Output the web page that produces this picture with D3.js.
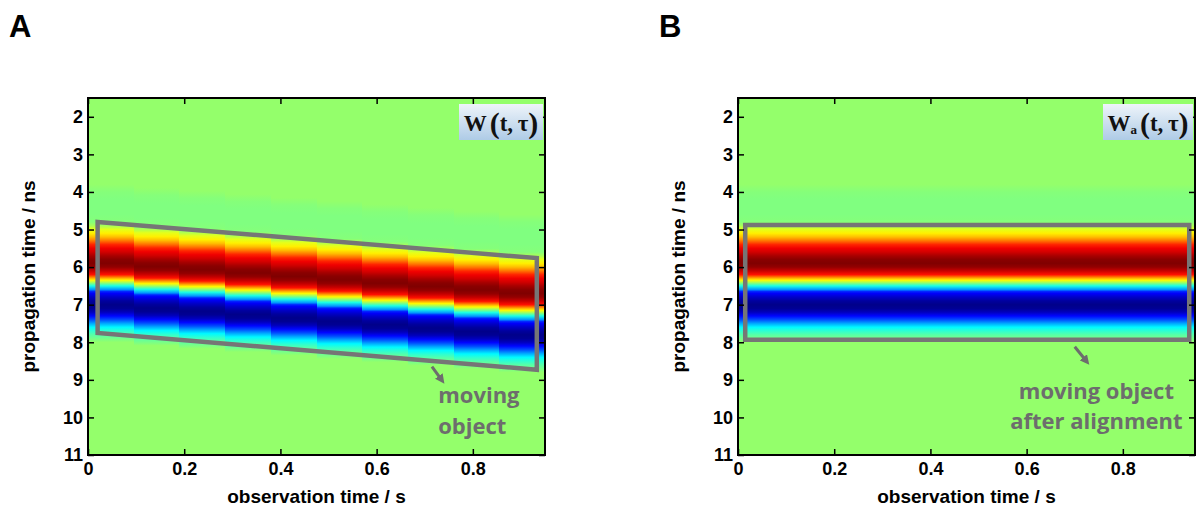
<!DOCTYPE html>
<html>
<head>
<meta charset="utf-8">
<script src="https://cdn.jsdelivr.net/npm/d3@7/dist/d3.min.js"></script>
<style>
body { margin: 0; background: #fff; }
text { font-family: "Liberation Sans", Arial, sans-serif; }
.tick text { font-size: 18px; font-weight: bold; fill: #000; }
.tick line { stroke: #000; stroke-width: 1.5; }
.domain { display: none; }
</style>
</head>
<body>
<svg width="1200" height="506"></svg>
<script>
// pulse profile: propagation time (ns) -> colormap level (0..1, jet)
var tau =   [3.8, 4.0, 4.2, 4.4, 4.6, 4.8, 4.9, 5.0, 5.1, 5.2, 5.3, 5.4, 5.5, 5.6, 5.7, 5.8, 5.9, 6.0, 6.1, 6.2, 6.3, 6.35, 6.4, 6.5, 6.6, 6.65, 6.7, 6.8, 6.9, 7.0, 7.1, 7.2, 7.3, 7.4, 7.5, 7.6, 7.7, 7.8, 7.9, 8.0];
var level = [0.52, 0.505, 0.5, 0.5, 0.5, 0.505, 0.54, 0.60, 0.64, 0.69, 0.76, 0.84, 0.89, 0.92, 0.96, 0.99, 1.00, 0.98, 0.93, 0.86, 0.70, 0.63, 0.55, 0.40, 0.27, 0.16, 0.12, 0.07, 0.03, 0.01, 0.02, 0.06, 0.13, 0.20, 0.29, 0.37, 0.42, 0.46, 0.49, 0.52];
var background = 0.52;

// observation time columns (s) and pulse delay of each column (ns)
var colStart = [0, 0.095, 0.19, 0.285, 0.38, 0.475, 0.57, 0.665, 0.76, 0.855];
var colWidth = 0.095;
var delayA = [0, 0.09, 0.17, 0.26, 0.35, 0.44, 0.53, 0.62, 0.71, 0.80];
var delayB = [0, 0, 0, 0, 0, 0, 0, 0, 0, 0];

var xTicks = [0, 0.2, 0.4, 0.6, 0.8];
var yTicks = [2, 3, 4, 5, 6, 7, 8, 9, 10, 11];

// outline of the moving object (s, ns)
var boxA = [[0.02, 4.8], [0.933, 5.76], [0.933, 8.73], [0.02, 7.75]];
var boxB = [[0.015, 4.88], [0.938, 4.88], [0.938, 7.93], [0.015, 7.93]];

function jet(v) {
  function c(x) { return Math.round(255 * Math.max(0, Math.min(1, x))); }
  return d3.rgb(c(Math.min(4 * v - 1.5, -4 * v + 4.5)),
                c(Math.min(4 * v - 0.5, -4 * v + 3.5)),
                c(Math.min(4 * v + 0.5, -4 * v + 2.5))).toString();
}

var svg = d3.select("svg");
var defs = svg.append("defs");

var lg = defs.append("linearGradient").attr("id", "labelbg")
  .attr("x1", 0).attr("y1", 0).attr("x2", 0).attr("y2", 1);
lg.append("stop").attr("offset", 0).attr("stop-color", "#eef4fa");
lg.append("stop").attr("offset", 1).attr("stop-color", "#aecbe6");

defs.append("marker").attr("id", "arrow")
  .attr("viewBox", "0 0 10 10").attr("refX", 5).attr("refY", 5)
  .attr("markerWidth", 3.2).attr("markerHeight", 3.2).attr("orient", "auto")
  .append("path").attr("d", "M0,0 L10,5 L0,10 z").attr("fill", "#6d6d6d");

function drawPanel(p) {
  var x = d3.scaleLinear().domain([0, 0.95]).range([p.left, p.left + 457]);
  var y = d3.scaleLinear().domain([1.5, 11]).range([98, 455]);
  var g = svg.append("g");

  defs.append("clipPath").attr("id", "clip" + p.name)
    .append("rect").attr("x", x(0)).attr("y", y(1.5))
    .attr("width", x(0.95) - x(0)).attr("height", y(11) - y(1.5));

  var plot = g.append("g").attr("clip-path", "url(#clip" + p.name + ")");
  plot.append("rect").attr("x", x(0)).attr("y", y(1.5))
    .attr("width", x(0.95) - x(0)).attr("height", y(11) - y(1.5))
    .attr("fill", jet(background));

  colStart.forEach(function(t0, i) {
    var d = p.delay[i];
    var y0 = y(tau[0] + d), y1 = y(tau[tau.length - 1] + d);
    var grad = defs.append("linearGradient").attr("id", "g" + p.name + i)
      .attr("gradientUnits", "userSpaceOnUse")
      .attr("x1", 0).attr("x2", 0).attr("y1", y0).attr("y2", y1);
    grad.selectAll("stop").data(tau).enter().append("stop")
      .attr("offset", function(v) { return (v - tau[0]) / (tau[tau.length - 1] - tau[0]); })
      .attr("stop-color", function(v, j) { return jet(level[j]); });
    plot.append("rect")
      .attr("x", x(t0)).attr("width", x(t0 + colWidth) - x(t0))
      .attr("y", y0).attr("height", y1 - y0)
      .attr("shape-rendering", "crispEdges")
      .attr("fill", "url(#g" + p.name + i + ")");
  });

  // object outline
  g.append("polygon")
    .attr("points", p.box.map(function(d) { return x(d[0]) + "," + y(d[1]); }).join(" "))
    .attr("fill", "none").attr("stroke", "#767676").attr("stroke-width", 4.5);

  // axes, ticks inward on all sides
  g.append("g").attr("transform", "translate(" + x(0) + ",0)")
    .call(d3.axisLeft(y).tickValues(yTicks).tickSize(-6).tickPadding(5));
  g.append("g").attr("transform", "translate(" + x(0.95) + ",0)")
    .call(d3.axisRight(y).tickValues(yTicks).tickSize(-6).tickFormat(""));
  g.append("g").attr("transform", "translate(0," + y(11) + ")")
    .call(d3.axisBottom(x).tickValues(xTicks).tickSize(-6).tickPadding(7)
      .tickFormat(function(d) { return d === 0 ? "0" : d3.format(".1f")(d); }));
  g.append("g").attr("transform", "translate(0," + y(1.5) + ")")
    .call(d3.axisTop(x).tickValues(xTicks).tickSize(-6).tickFormat(""));
  g.append("rect").attr("x", x(0)).attr("y", y(1.5))
    .attr("width", x(0.95) - x(0)).attr("height", y(11) - y(1.5))
    .attr("fill", "none").attr("stroke", "#000").attr("stroke-width", 2);

  // axis titles
  g.append("text").attr("x", (x(0) + x(0.95)) / 2).attr("y", 503)
    .attr("text-anchor", "middle").attr("font-size", 19).attr("font-weight", "bold")
    .text("observation time / s");
  g.append("text").attr("transform", "translate(" + (p.left - 53) + "," + (y(6.25)) + ") rotate(-90)")
    .attr("text-anchor", "middle").attr("font-size", 19).attr("font-weight", "bold")
    .text("propagation time / ns");

  // panel letter
  svg.append("text").attr("x", p.left - 79).attr("y", 37)
    .attr("font-size", 31).attr("font-weight", "bold").text(p.name);

  // function label
  g.append("rect").attr("x", x(0.95) - p.labelW - 2).attr("y", 104)
    .attr("width", p.labelW).attr("height", 36).attr("fill", "url(#labelbg)");
  var lt = g.append("text").attr("x", x(0.95) - 2 - p.labelW / 2).attr("y", 131)
    .attr("text-anchor", "middle")
    .style("font-family", "'Liberation Serif', 'Times New Roman', serif")
    .attr("font-weight", "bold").attr("font-size", 23).attr("fill", "#111");
  lt.append("tspan").text("W");
  if (p.sub) lt.append("tspan").attr("font-size", 13).attr("dy", 3).text(p.sub);
  lt.append("tspan").attr("font-size", 30).attr("dy", p.sub ? -1 : 2).attr("dx", 3).text("(");
  lt.append("tspan").attr("font-size", 23).attr("dy", -2).text("t,\u2009\u03c4");
  lt.append("tspan").attr("font-size", 30).attr("dy", 2).text(")");

  // annotation
  g.append("line")
    .attr("x1", x(p.arrow[0])).attr("y1", y(p.arrow[1]))
    .attr("x2", x(p.arrow[2])).attr("y2", y(p.arrow[3]))
    .attr("stroke", "#6d6d6d").attr("stroke-width", 3)
    .attr("marker-end", "url(#arrow)");
  p.note.forEach(function(line, k) {
    g.append("text").attr("x", x(p.noteX)).attr("y", y(p.noteY[k]))
      .attr("text-anchor", p.anchor)
      .style("font-family", "'Open Sans', sans-serif")
      .attr("font-weight", "bold").attr("font-size", 22).attr("fill", "#6d6d6d")
      .text(line);
  });
}

drawPanel({ name: "A", left: 88, delay: delayA, box: boxA, labelW: 84, sub: null,
  arrow: [0.715, 8.65, 0.735, 9.0], note: ["moving", "object"], noteX: 0.728, noteY: [9.62, 10.45], anchor: "start" });
drawPanel({ name: "B", left: 738, delay: delayB, box: boxB, labelW: 90, sub: "a",
  arrow: [0.70, 8.12, 0.724, 8.5], note: ["moving object", "after alignment"], noteX: 0.745, noteY: [9.5, 10.3], anchor: "middle" });
</script>
</body>
</html>
